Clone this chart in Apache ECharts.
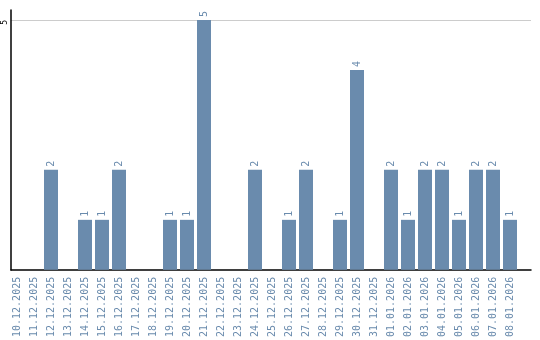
<!DOCTYPE html>
<html><head><meta charset="utf-8">
<script src="https://cdn.jsdelivr.net/npm/echarts@6/dist/echarts.min.js"></script>
<style>html,body{margin:0;padding:0;background:#fff}#c{width:540px;height:340px}</style>
</head><body><div id="c"></div>
<script>
const categories = ["10.12.2025","11.12.2025","12.12.2025","13.12.2025","14.12.2025","15.12.2025","16.12.2025","17.12.2025","18.12.2025","19.12.2025","20.12.2025","21.12.2025","22.12.2025","23.12.2025","24.12.2025","25.12.2025","26.12.2025","27.12.2025","28.12.2025","29.12.2025","30.12.2025","31.12.2025","01.01.2026","02.01.2026","03.01.2026","04.01.2026","05.01.2026","06.01.2026","07.01.2026","08.01.2026"];
const values = [0,0,2,0,1,1,2,0,0,1,1,5,0,0,2,0,1,2,0,1,4,0,2,1,2,2,1,2,2,1];
const yMax = 5.2;
const yTicks = [5];

const chart = echarts.init(document.getElementById('c'));
const blue = '#6a8bad';
chart.setOption({
  animation: false,
  grid: [
    {left: 8.5, right: 21.5, top: 10, bottom: 70},
    {left: 11, right: 9, top: 10, bottom: 70}
  ],
  xAxis: [
    {type: 'category', gridIndex: 0, data: categories,
     axisLine: {show: false}, axisTick: {show: false},
     axisLabel: {rotate: 90, interval: 0, margin: 7, color: blue, fontFamily: 'DejaVu Sans Mono', fontSize: 10}},
    {type: 'value', gridIndex: 1, min: 0, max: 1,
     axisLine: {show: true, lineStyle: {color: '#000', width: 1.5}}, axisTick: {show: false},
     axisLabel: {show: false}, splitLine: {show: false}}
  ],
  yAxis: [
    {type: 'value', gridIndex: 0, min: 0, max: yMax, show: false},
    {type: 'value', gridIndex: 1, min: 0, max: yMax, interval: 5,
     axisLine: {show: true, lineStyle: {color: '#000', width: 1.5}}, axisTick: {show: false},
     axisLabel: {rotate: 90, margin: 6, align: 'right', verticalAlign: 'middle', color: '#000', fontFamily: 'DejaVu Sans Mono', fontSize: 8,
       formatter: v => yTicks.includes(v) ? String(v) : ''},
     splitLine: {show: true, showMinLine: false, showMaxLine: false, lineStyle: {color: '#cccccc', width: 1}}}
  ],
  series: [{
    type: 'bar', xAxisIndex: 0, yAxisIndex: 0, data: values, barWidth: 14,
    itemStyle: {color: blue},
    label: {show: true, position: 'top', rotate: 90, distance: 3, align: 'left', verticalAlign: 'middle',
      color: blue, fontFamily: 'DejaVu Sans Mono', fontSize: 10,
      formatter: p => p.value > 0 ? String(p.value) : ''}
  }]
});
</script></body></html>
